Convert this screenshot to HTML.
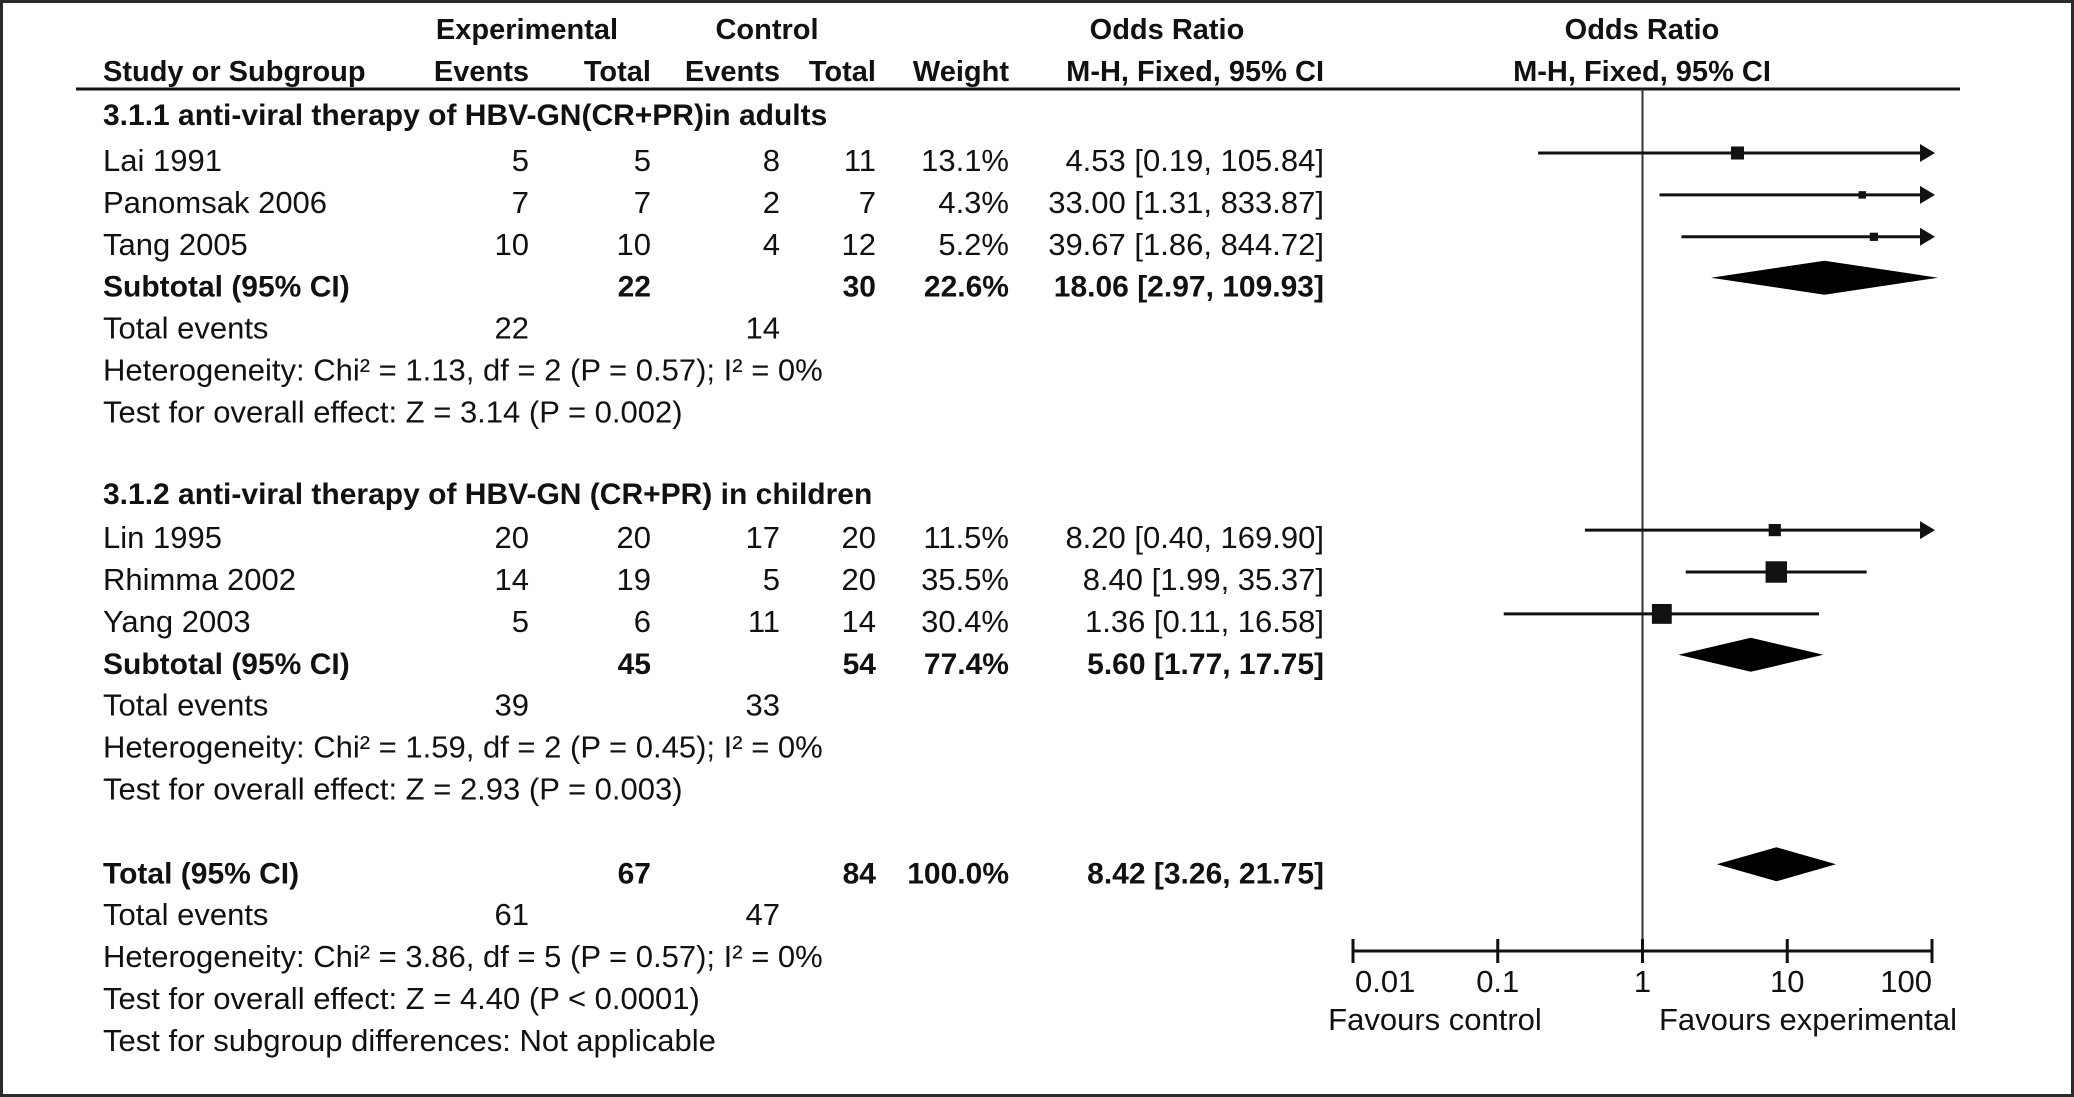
<!DOCTYPE html>
<html><head><meta charset="utf-8"><style>
html,body{margin:0;padding:0;background:#fff;}
#wrap{position:relative;width:2074px;height:1097px;box-sizing:border-box;border:3px solid #2a2a2a;overflow:hidden;}
svg{position:absolute;left:-3px;top:-3px;}
text{font-family:"Liberation Sans",Arial,sans-serif;font-size:31px;fill:#111;}
.b{font-weight:bold;font-size:30px;}
.h{font-weight:bold;font-size:29px;}
</style></head><body>
<div id="wrap">
<svg id="plot" width="2074" height="1097" xmlns="http://www.w3.org/2000/svg"></svg>
</div>
<script>
// ---- data ----
const studies = ["Lai 1991","Panomsak 2006","Tang 2005","Lin 1995","Rhimma 2002","Yang 2003"];
const expEvents = [5,7,10,20,14,5];
const expTotal = [5,7,10,20,19,6];
const ctrlEvents = [8,2,4,17,5,11];
const ctrlTotal = [11,7,12,20,20,14];
const weights = [13.1,4.3,5.2,11.5,35.5,30.4];
const orVals = [4.53,33.00,39.67,8.20,8.40,1.36];
const ciLow = [0.19,1.31,1.86,0.40,1.99,0.11];
const ciHigh = [105.84,833.87,844.72,169.90,35.37,16.58];
const studyRows = [0,1,2,9,10,11];
const pooledLabels = ["Subtotal (95% CI)","Subtotal (95% CI)","Total (95% CI)"];
const pooledExpTotal = [22,45,67];
const pooledCtrlTotal = [30,54,84];
const pooledWeight = [22.6,77.4,100.0];
const pooledOR = [18.06,5.60,8.42];
const pooledLow = [2.97,1.77,3.26];
const pooledHigh = [109.93,17.75,21.75];
const pooledRows = [3,12,17];
const tickVals = [0.01,0.1,1,10,100];
const tickLabels = ["0.01","0.1","1","10","100"];

const svg = document.getElementById('plot');
const NS = "http://www.w3.org/2000/svg";
const rowY0 = 161, rowStep = 41.9;
function rowY(r){ return rowY0 + r*rowStep; }
const xMin = 1353, xMax = 1932;
function xs(v){ return xMin + (Math.log10(v)+2)/4*(xMax-xMin); }

function txt(x,y,s,anchor,cls,name){
  const t=document.createElementNS(NS,'text');
  t.setAttribute('x',x); t.setAttribute('y',y);
  t.setAttribute('text-anchor',anchor||'start');
  if(cls) t.setAttribute('class',cls);
  t.setAttribute('xml:space','preserve');
  t.textContent=s;
  
  
  svg.appendChild(t); return t;
}
function el(tag,attrs,name){
  const e=document.createElementNS(NS,tag);
  for(const k in attrs) e.setAttribute(k,attrs[k]);
  
  
  svg.appendChild(e); return e;
}
const B = 10;

// headers
txt(527,39,"Experimental","middle","h","header-experimental");
txt(767,39,"Control","middle","h","header-control");
txt(1167,39,"Odds Ratio","middle","h","header-odds-ratio");
txt(1642,39,"Odds Ratio","middle","h","header-odds-ratio-plot");
txt(103,81,"Study or Subgroup","start","h","header-study");
txt(529,81,"Events","end","h","header-exp-events");
txt(651,81,"Total","end","h","header-exp-total");
txt(780,81,"Events","end","h","header-ctrl-events");
txt(876,81,"Total","end","h","header-ctrl-total");
txt(1009,81,"Weight","end","h","header-weight");
txt(1324,81,"M-H, Fixed, 95% CI","end","h","header-mh");
txt(1642,81,"M-H, Fixed, 95% CI","middle","h","header-mh-plot");
el('line',{x1:76,y1:89,x2:1960,y2:89,stroke:'#111','stroke-width':3},'header-underline');

// subgroup headings
txt(103,rowY(-1)+B-4,"3.1.1 anti-viral therapy of HBV-GN(CR+PR)in adults","start","b","subgroup-1-title");
txt(103,rowY(8)+B-2,"3.1.2 anti-viral therapy of HBV-GN (CR+PR) in children","start","b","subgroup-2-title");

// null line
el('line',{x1:xs(1),y1:89,x2:xs(1),y2:951,stroke:'#333','stroke-width':2},'null-line');

// study rows
studies.forEach((s,i)=>{
  const y=rowY(studyRows[i]);
  txt(103,y+B,s,"start","","study-name");
  txt(529,y+B,String(expEvents[i]),"end","","exp-events");
  txt(651,y+B,String(expTotal[i]),"end","","exp-total");
  txt(780,y+B,String(ctrlEvents[i]),"end","","ctrl-events");
  txt(876,y+B,String(ctrlTotal[i]),"end","","ctrl-total");
  txt(1009,y+B,weights[i].toFixed(1)+"%","end","","weight");
  txt(1324,y+B,orVals[i].toFixed(2)+" ["+ciLow[i].toFixed(2)+", "+ciHigh[i].toFixed(2)+"]","end","","or-ci");
  const ly=y-8;
  const lo=Math.max(xMin,xs(ciLow[i])), hiClip=ciHigh[i]>100;
  const hi=hiClip?xMax-4:xs(ciHigh[i]);
  el('line',{x1:lo,y1:ly,x2:hi,y2:ly,stroke:'#111','stroke-width':3},'ci-line');
  if(hiClip){
    el('polygon',{points:(xMax-12)+","+(ly-9)+" "+(xMax+3)+","+ly+" "+(xMax-12)+","+(ly+9),fill:'#111'},'ci-arrow');
  }
  const sz=3.6*Math.sqrt(weights[i]);
  el('rect',{x:xs(orVals[i])-sz/2,y:ly-sz/2,width:sz,height:sz,fill:'#111'},'point-estimate');
});

// pooled rows
pooledLabels.forEach((s,i)=>{
  const y=rowY(pooledRows[i]);
  txt(103,y+B,s,"start","b","pooled-label");
  txt(651,y+B,String(pooledExpTotal[i]),"end","b","pooled-exp-total");
  txt(876,y+B,String(pooledCtrlTotal[i]),"end","b","pooled-ctrl-total");
  txt(1009,y+B,pooledWeight[i].toFixed(1)+"%","end","b","pooled-weight");
  txt(1324,y+B,pooledOR[i].toFixed(2)+" ["+pooledLow[i].toFixed(2)+", "+pooledHigh[i].toFixed(2)+"]","end","b","pooled-or-ci");
  const dy=y-9;
  el('polygon',{points:xs(pooledLow[i])+","+dy+" "+xs(pooledOR[i])+","+(dy-17)+" "+xs(pooledHigh[i])+","+dy+" "+xs(pooledOR[i])+","+(dy+17),fill:'#000'},'pooled-diamond');
});

// footnotes
const footTexts = [
 [4,"Total events","22","14"],[5,"Heterogeneity: Chi\u00b2 = 1.13, df = 2 (P = 0.57); I\u00b2 = 0%"],[6,"Test for overall effect: Z = 3.14 (P = 0.002)"],
 [13,"Total events","39","33"],[14,"Heterogeneity: Chi\u00b2 = 1.59, df = 2 (P = 0.45); I\u00b2 = 0%"],[15,"Test for overall effect: Z = 2.93 (P = 0.003)"],
 [18,"Total events","61","47"],[19,"Heterogeneity: Chi\u00b2 = 3.86, df = 5 (P = 0.57); I\u00b2 = 0%"],[20,"Test for overall effect: Z = 4.40 (P < 0.0001)"],[21,"Test for subgroup differences: Not applicable"]
];
footTexts.forEach(f=>{
  const y=rowY(f[0]);
  txt(103,y+B,f[1],"start","","footnote");
  if(f[2]){ txt(529,y+B,f[2],"end","","total-exp-events"); txt(780,y+B,f[3],"end","","total-ctrl-events"); }
});

// axis
el('line',{x1:xMin,y1:951,x2:xMax,y2:951,stroke:'#111','stroke-width':3},'x-axis');
tickVals.forEach((v,i)=>{
  el('line',{x1:xs(v),y1:939,x2:xs(v),y2:963,stroke:'#111','stroke-width':3},'x-tick');
  const a=i==0?'start':(i==tickVals.length-1?'end':'middle');
  txt(xs(v)+(i==0?2:0),992,tickLabels[i],a,"","x-tick-label");
});
txt(1435,1030,"Favours  control","middle","","favours-control-label");
txt(1808,1030,"Favours  experimental","middle","","favours-experimental-label");
</script>
</body></html>
